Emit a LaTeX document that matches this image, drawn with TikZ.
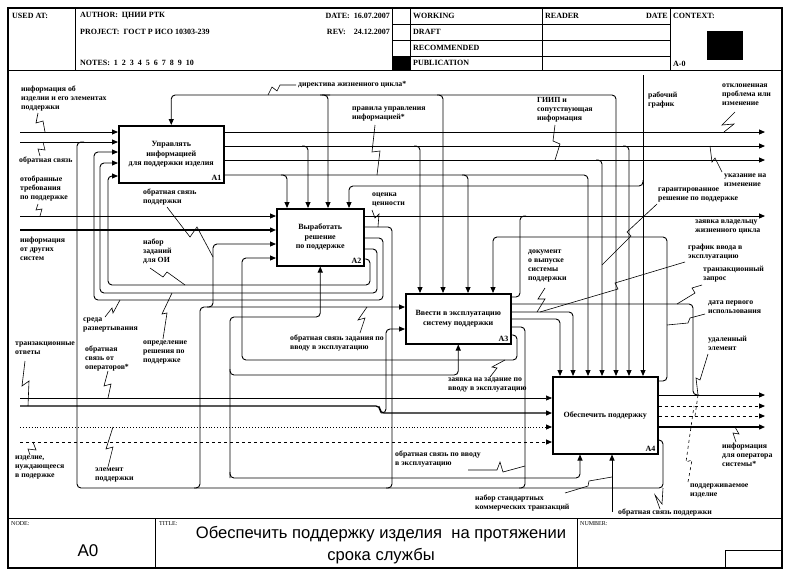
\documentclass[tikz,border=0pt]{standalone}
\usepackage{fontspec}
\setmainfont{Liberation Serif}
\newfontfamily\titlefont{Liberation Sans}
\usetikzlibrary{arrows.meta}

\tikzset{
  box/.style={draw,line width=1.5pt,fill=white,anchor=north west,inner sep=0pt,align=center,
    font=\fontsize{8}{9.5}\selectfont\bfseries},
  flow/.style={draw,line width=0.9pt,rounded corners=4pt,-{Triangle[length=6pt,width=5pt]}},
  wire/.style={draw,line width=0.9pt,rounded corners=4pt},
  squig/.style={draw,line width=0.6pt},
  lbl/.style={anchor=north west,inner sep=0pt,align=left,font=\fontsize{7.8}{9}\selectfont\bfseries},
  hdr/.style={anchor=west,inner sep=0pt,font=\fontsize{8}{9}\selectfont\bfseries},
}

\begin{document}
\begin{tikzpicture}[x=1pt,y=-1pt]
\useasboundingbox[fill=white] (0,0) rectangle (790,576);

% frame, header and footer
\draw[line width=1.2pt] (8,8) rectangle (782,568);
\draw[line width=1pt] (8,70) -- (782,70) (8,518) -- (782,518);
\draw (75,8) -- (75,70) (392,8) -- (392,70) (410,8) -- (410,70) (542,8) -- (542,70) (670,8) -- (670,70);
\draw (392,24) -- (670,24) (392,40) -- (670,40) (392,56) -- (670,56);
\fill (392,56) rectangle (410,70);
\fill (707,31) rectangle (743,60);
\draw (155,518) -- (155,568) (577,518) -- (577,568);
\draw (725,550) rectangle (782,568);

\node[hdr] (usedat) at (12,16) {USED AT:};
\node[hdr] (author) at (80,16) {AUTHOR:\ \ ЦНИИ РТК};
\node[hdr] (project) at (80,32) {PROJECT:\ \ ГОСТ Р ИСО 10303-239};
\node[hdr] (notes) at (80,63) {NOTES:\ \ 1\ \ 2\ \ 3\ \ 4\ \ 5\ \ 6\ \ 7\ \ 8\ \ 9\ \ 10};
\node[hdr,anchor=east] (date) at (390,16) {DATE:\ \ 16.07.2007};
\node[hdr,anchor=east] (rev) at (390,32) {REV:\ \ \ \ 24.12.2007};
\node[hdr] (working) at (413,16) {WORKING};
\node[hdr] (draft) at (413,32) {DRAFT};
\node[hdr] (recommended) at (413,48) {RECOMMENDED};
\node[hdr] (publication) at (413,63) {PUBLICATION};
\node[hdr] (reader) at (545,16) {READER};
\node[hdr,anchor=east] (rdate) at (668,16) {DATE};
\node[hdr] (context) at (673,16) {CONTEXT:};
\node[hdr] (ctxnode) at (673,64) {A-0};

\node[hdr,font=\fontsize{6}{7}\selectfont] (nodelbl) at (11,524) {NODE:};
\node[hdr,font=\fontsize{6}{7}\selectfont] (titlelbl) at (159,524) {TITLE:};
\node[hdr,font=\fontsize{6}{7}\selectfont] (numberlbl) at (580,524) {NUMBER:};
\node[font=\titlefont\fontsize{17}{20}\selectfont] (nodeid) at (88,551) {A0};
\node[font=\titlefont\fontsize{16.6}{21.5}\selectfont,align=center] (title) at (381,545)
  {Обеспечить поддержку изделия\ \ на протяжении\\срока службы};

% activity boxes
\node[box,minimum width=105pt,minimum height=57pt] (a1) at (118,125) {Управлять\\информацией\\для поддержки изделия};
\node[box,minimum width=87pt,minimum height=57pt] (a2) at (276,208) {Выработать\\решение\\по поддержке};
\node[box,minimum width=105pt,minimum height=50pt] (a3) at (405,293) {Ввести в эксплуатацию\\систему поддержки};
\node[box,minimum width=105pt,minimum height=77pt] (a4) at (552,376) {Обеспечить поддержку};
\node[hdr,anchor=south east] (a1id) at ([shift={(-3,-3)}]a1.south east) {A1};
\node[hdr,anchor=south east] (a2id) at ([shift={(-3,-3)}]a2.south east) {A2};
\node[hdr,anchor=south east] (a3id) at ([shift={(-3,-3)}]a3.south east) {A3};
\node[hdr,anchor=south east] (a4id) at ([shift={(-3,-3)}]a4.south east) {A4};

% controls from above
\draw[flow] (330,95) -- (a1.north|-0,95) -- (a1.north);
\draw[flow] (320,95) -- (616,95) -- (a4.north-|616,0);
\draw[flow] (322,95) -- (328,95) -- (a2.north-|328,0);
\draw[flow] (437,95) -- (443,95) -- (a3.north-|443,0);
\draw[flow] (643,75) -- (a4.north-|643,0);
\draw[flow] (643,180) -- (643,186) -- (349,186) -- (a2.north-|349,0);

% A1 outputs
\draw[flow] (a1.east|-0,132) -- (765,132);
\draw[flow] (a1.east|-0,146) -- (765,146);
\draw[flow] (a1.east|-0,160) -- (765,160);
\draw[flow] (a1.east|-0,175) -- (588,175) -- (a4.north-|588,0);
\draw[flow] (302,146) -- (308,146) -- (a2.north-|308,0);
\draw[flow] (414,146) -- (420,146) -- (a3.north-|420,0);
\draw[flow] (623,146) -- (629,146) -- (a4.north-|629,0);
\draw[flow] (596,160) -- (602,160) -- (a4.north-|602,0);
\draw[flow] (281,175) -- (287,175) -- (a2.north-|287,0);
\draw[flow] (462,175) -- (468,175) -- (a3.north-|468,0);

% A1 inputs
\draw[flow] (20,132) -- (a1.west|-0,132);
\draw[flow] (20,142) -- (a1.west|-0,142);
\draw[flow] (a2.east|-0,238) -- (383,238) -- (383,300) -- (94,300) -- (94,152) -- (a1.west|-0,152);
\draw[flow] (a2.east|-0,249) -- (377,249) -- (377,293) -- (100,293) -- (100,163) -- (a1.west|-0,163);
\draw[flow] (a2.east|-0,259) -- (370,259) -- (370,285) -- (108,285) -- (108,176) -- (a1.west|-0,176);

% bottom return bus
\draw[wire] (a4.east|-0,440) -- (663,440) -- (663,488) -- (77,488) -- (77,142) -- (84,142);
\draw[wire] (a2.east|-0,227) -- (392,227) -- (392,488) -- (386,488);
\draw[wire] (a3.east|-0,327) -- (525,327) -- (525,488) -- (519,488);
\draw[flow] (194,488) -- (200,488) -- (200,307) -- (a3.west|-0,307);
\draw[flow] (207,307) -- (213,307) -- (213,244) -- (a2.west|-0,244);

% A2 inputs
\draw[flow] (20,216) -- (a2.west|-0,216);
\draw[flow,line width=1.3pt] (20,230) -- (a2.west|-0,230);
\draw[flow] (a3.east|-0,335) -- (517,335) -- (517,360) -- (242,360) -- (242,258) -- (a2.west|-0,258);

% mechanisms
\draw[flow] (230,478) -- (230,317) -- (a2.south|-0,317) -- (a2.south);
\draw[flow] (230,369) -- (230,375) -- (a3.south|-0,375) -- (a3.south);
\draw[flow] (230,472) -- (230,478) -- (580,478) -- (a4.south-|580,0);
\draw[flow] (612,512) -- (a4.south-|612,0);

% A3 and A4 inputs
\draw[flow,line width=1.3pt] (20,406) -- (380,406) -- (380,413) -- (a4.west|-0,413);
\draw[flow] (381,413) -- (386,413) -- (386,329) -- (a3.west|-0,329);
\draw[flow,line width=0.6pt] (20,398) -- (a4.west|-0,398);
\draw[flow,dotted] (20,427) -- (a4.west|-0,427);
\draw[flow,dashed] (20,442) -- (a4.west|-0,442);

% A2 and A3 outputs
\draw[flow] (a2.east|-0,216) -- (765,216);
\draw[wire] (a3.east|-0,297) -- (520,297) -- (520,216) -- (526,216);
\draw[wire] (a3.east|-0,304) -- (693,304) -- (693,395) -- (699,395);
\draw[flow] (a3.east|-0,312) -- (573,312) -- (a4.north-|573,0);
\draw[flow] (a3.east|-0,319) -- (560,319) -- (a4.north-|560,0);

% A4 outputs
\draw[flow] (a4.east|-0,381) -- (667,381) -- (667,237) -- (493,237) -- (a3.north-|493,0);
\draw[flow] (a4.east|-0,395) -- (765,395);
\draw[flow,dashed] (a4.east|-0,406) -- (765,406);
\draw[flow,dashed] (a4.east|-0,416) -- (765,416);
\draw[flow,line width=1.3pt] (a4.east|-0,427) -- (765,427);

% labels
\node[lbl] (infoitem) at (21,86) {информация об\\изделии и его элементах\\поддержки};
\node[lbl] (feedback) at (19,157) {обратная связь};
\node[lbl] (selreq) at (20,176) {отобранные\\требования\\по поддержке};
\node[lbl] (othersys) at (20,237) {информация\\от других\\систем};
\node[lbl] (supfb) at (143,189) {обратная связь\\поддержки};
\node[lbl] (taskset) at (143,239) {набор\\заданий\\для ОИ};
\node[lbl] (deployenv) at (83,318) {среда\\развертывания};
\node[lbl] (supdef) at (143,341) {определение\\решения по\\поддержке};
\node[lbl] (transans) at (15,342) {транзакционные\\ответы};
\node[lbl] (operfb) at (85,346) {обратная\\связь от\\операторов*};
\node[lbl] (needitem) at (15,456) {изделие,\\нуждающееся\\в подержке};
\node[lbl] (supelem) at (95,468) {элемент\\поддержки};
\node[lbl] (directive) at (298,81) {директива жизненного цикла*};
\node[lbl] (inforules) at (352,107) {правила управления\\информацией*};
\node[lbl] (valuation) at (372,193) {оценка\\ценности};
\node[lbl] (giip) at (537,97) {ГИИП и\\сопутствующая\\информация};
\node[lbl] (worksched) at (648,92) {рабочий\\график};
\node[lbl] (rejected) at (722,84) {отклоненная\\проблема или\\изменение};
\node[lbl] (changeref) at (724,174) {указание на\\изменение};
\node[lbl] (warranty) at (658,188) {гарантированное\\решение по поддержке};
\node[lbl] (ownerreq) at (695,220) {заявка владельцу\\жизненного цикла};
\node[lbl] (deploysched) at (688,244) {график ввода в\\эксплуатацию};
\node[lbl] (releasedoc) at (528,250) {документ\\о выпуске\\системы\\поддержки};
\node[lbl] (transreq) at (703,266) {транзакционный\\запрос};
\node[lbl] (firstuse) at (708,301) {дата первого\\использования};
\node[lbl] (removed) at (708,336) {удаленный\\элемент};
\node[lbl] (operinfo) at (722,443) {информация\\для оператора\\системы*};
\node[lbl] (supitem) at (690,484) {поддерживаемое\\изделие};
\node[lbl] (supfb2) at (618,509) {обратная связь поддержки};
\node[lbl] (stdtrans) at (475,495) {набор стандартных\\коммерческих транзакций};
\node[lbl] (deployfb) at (395,451) {обратная связь по вводу\\в эксплуатацию};
\node[lbl] (taskreq) at (448,378) {заявка на задание по\\вводу в эксплуатацию};
\node[lbl] (taskfb) at (290,335) {обратная связь задания по\\вводу в эксплуатацию};

% label leaders
\draw[squig] (38,113) -- (36,123) -- (43,121) -- (45,132);
\draw[squig] (40,156) -- (38,149) -- (45,150) -- (43,142);
\draw[squig] (38,204) -- (36,210) -- (42,209) -- (40,216);
\draw[squig] (167,207) -- (190,237) -- (197,227) -- (213,257);
\draw[squig] (150,268) -- (163,277) -- (167,272) -- (185,285);
\draw[squig] (105,317) -- (112,308) -- (113,313) -- (120,300);
\draw[squig] (163,339) -- (167,313) -- (162,314) -- (172,293);
\draw[squig] (25,361) -- (22,386) -- (29,381) -- (28,406);
\draw[squig] (108,371) -- (104,386) -- (111,384) -- (108,398);
\draw[squig] (30,455) -- (28,449) -- (36,450) -- (33,442);
\draw[squig] (108,467) -- (113,447) -- (106,449) -- (113,427);
\draw[squig] (296,85) -- (280,85) -- (277,91) -- (272,87) -- (268,95);
\draw[squig] (375,125) -- (372,152) -- (380,151) -- (377,175);
\draw[squig] (372,210) -- (375,218) -- (379,214) -- (378,227);
\draw[squig] (555,125) -- (553,141) -- (560,144) -- (555,160);
\draw[squig] (735,112) -- (722,125) -- (734,124) -- (724,132);
\draw[squig] (722,172) -- (715,158) -- (712,162) -- (710,146);
\draw[squig] (657,204) -- (627,232) -- (631,236) -- (602,265);
\draw[squig] (685,262) -- (615,283) -- (618,289) -- (540,312);
\draw[squig] (545,288) -- (538,299) -- (545,299) -- (537,312);
\draw[squig] (702,285) -- (692,288) -- (695,293) -- (677,304);
\draw[squig] (705,314) -- (690,318) -- (688,323) -- (667,325);
\draw[squig] (708,354) -- (700,380) -- (696,378) -- (698,395);
\draw[squig,dashed] (698,395) -- (695,416);
\draw[squig,dashed] (688,482) -- (692,460) -- (686,462) -- (694,406);
\draw[squig] (736,442) -- (733,433) -- (739,434) -- (735,427);
\draw[squig] (660,509) -- (655,495) -- (662,504) -- (663,488);
\draw[squig] (565,493) -- (588,486) -- (589,481) -- (612,477);
\draw[squig] (468,470) -- (497,470) -- (500,462) -- (503,472) -- (525,466);
\draw[squig] (360,333) -- (365,318) -- (358,320) -- (367,307);
\draw[squig] (490,377) -- (497,368) -- (492,367) -- (505,360);
\end{tikzpicture}
\end{document}
